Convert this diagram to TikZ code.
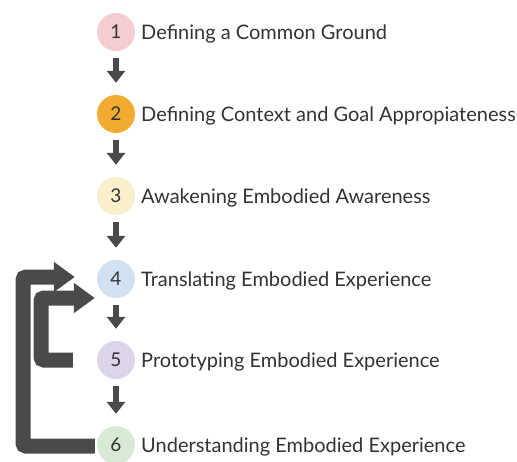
\documentclass[tikz,border=0pt]{standalone}
\usepackage{fontspec}
\setmainfont{Lato}
\usetikzlibrary{arrows.meta,calc}
\definecolor{ink}{HTML}{333333}
\definecolor{arrowgray}{HTML}{4A4A4A}
\definecolor{cpink}{HTML}{F4CDD1}
\definecolor{corange}{HTML}{F3AA30}
\definecolor{cyellow}{HTML}{FBEFCC}
\definecolor{cblue}{HTML}{D0E2F2}
\definecolor{clavender}{HTML}{DCD4EB}
\definecolor{cgreen}{HTML}{D6EAD4}
\tikzset{
  stepcircle/.style={circle, minimum size=38pt, inner sep=0pt, text=ink, font=\fontsize{19}{19}\selectfont},
  steplabel/.style={anchor=base west, inner sep=0pt, text=ink, font=\fontsize{20}{20}\selectfont},
  downarrow/.style={draw=arrowgray, line width=5.5pt, -{Triangle[length=12pt,width=18pt]}, shorten <=7pt, shorten >=12pt},
  loopback/.style={draw=arrowgray, line width=15pt, rounded corners=3pt, -{Triangle[length=21pt,width=29pt]}}
}
\begin{document}
\begin{tikzpicture}[x=1pt,y=-1pt]
  \fill[white] (0,0) rectangle (517,461);
  \useasboundingbox (0,0) rectangle (517,461);

  % numbered steps
  \node[stepcircle, fill=cpink]     (c1) at (116,32)  {1};
  \node[stepcircle, fill=corange]   (c2) at (116,114) {2};
  \node[stepcircle, fill=cyellow]   (c3) at (116,196) {3};
  \node[stepcircle, fill=cblue]     (c4) at (116,279) {4};
  \node[stepcircle, fill=clavender] (c5) at (116,360) {5};
  \node[stepcircle, fill=cgreen]    (c6) at (116,445) {6};

  \node[steplabel] (t1) at (141,39)  {Defining a Common Ground};
  \node[steplabel] (t2) at (141,121) {Defining Context and Goal Appropiateness};
  \node[steplabel] (t3) at (141,203) {Awakening Embodied Awareness};
  \node[steplabel] (t4) at (141,286) {Translating Embodied Experience};
  \node[steplabel] (t5) at (141,367) {Prototyping Embodied Experience};
  \node[steplabel] (t6) at (141,452) {Understanding Embodied Experience};

  % forward flow
  \draw[downarrow] (c1) -- (c2);
  \draw[downarrow] (c2) -- (c3);
  \draw[downarrow] (c3) -- (c4);
  \draw[downarrow] (c4) -- (c5);
  \draw[downarrow] (c5) -- (c6);

  % iteration loops back to step 4
  \coordinate (inStart)  at ($(c5.west)+(-24,0)$);
  \coordinate (inTip)    at ($(c4.west)+(-2,19)$);
  \coordinate (outStart) at ($(c6.west)+(-2,1)$);
  \coordinate (outTip)   at ($(c4.west)+(-22,-2)$);
  \draw[loopback] (inStart) -- (41,360) -- (41,298) -- (inTip);
  \draw[loopback] (outStart) -- (23,446) -- (23,277) -- (outTip);
\end{tikzpicture}
\end{document}
